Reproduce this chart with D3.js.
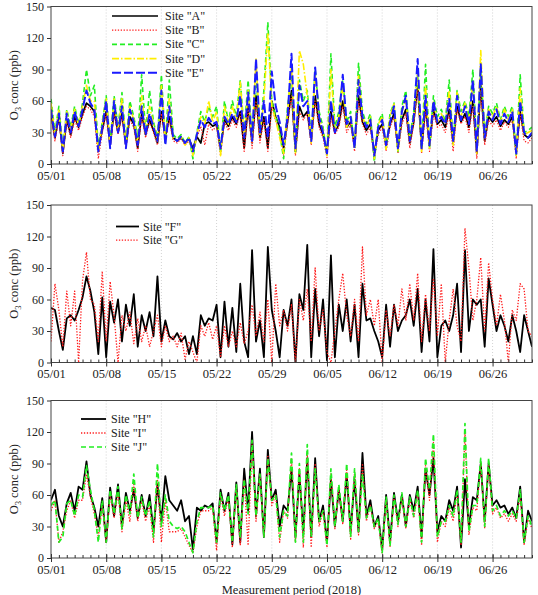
<!DOCTYPE html>
<html><head><meta charset="utf-8">
<script src="https://cdn.jsdelivr.net/npm/d3@7"></script>
<style>
body{margin:0;background:#fff}
svg{display:block}
svg text{font-family:"Liberation Serif","DejaVu Serif",serif !important;fill:#222}
</style>
</head><body><svg id="c" width="538" height="595" font-family="Liberation Serif"></svg>
<script>
// ---------- data (half-daily values starting 2018-05-01 00:00) ----------
const tickLabels = ["05/01","05/08","05/15","05/22","05/29","06/05","06/12","06/19","06/26"];
const yTicks = [0,30,60,90,120,150];

const siteA = [48,25,45,10,42,28,45,35,48,58, 55,50,15,32,50,18,50,30,48,18, 45,38,15,48,28,42,32,20,50,25, 45,25,22,25,20,24,15,26,20,38, 40,36,38,14,42,36,45,38,50,15, 55,20,65,25,45,15,60,45,35,15, 40,70,12,55,45,50,22,65,38,28, 12,50,30,38,60,35,40,18,65,40, 32,38,10,32,38,18,38,48,15,42, 52,20,40,75,15,55,18,52,38,42, 35,52,20,55,40,48,35,60,10,75, 22,45,40,45,36,42,38,45,12,50, 28,25,28];
const siteB = [45,22,42,8,40,25,42,32,45,55, 52,45,5,30,48,15,48,28,45,15, 42,35,12,45,25,40,30,18,48,22, 42,22,20,24,18,22,12,25,36,18, 38,32,36,8,40,32,42,35,48,12, 52,15,60,20,42,12,55,40,32,8, 38,65,8,50,42,48,18,60,35,25, 6,45,28,35,55,30,38,12,60,38, 28,35,5,28,35,12,35,45,10,38, 48,15,38,70,10,50,12,48,35,38, 30,48,12,52,38,45,30,55,5,70, 18,42,36,42,32,40,35,42,5,48, 22,20,25];
const siteC = [62,30,55,15,52,35,55,38,58,90, 65,75,15,40,65,20,65,35,68,20, 60,45,25,85,30,70,40,25,85,20, 80,28,24,28,20,26,5,30,50,40, 55,45,55,12,60,40,60,45,80,30, 80,25,85,30,70,135,60,45,30,5, 55,85,12,80,60,70,25,90,50,35, 8,105,35,50,80,40,50,15,96,50, 38,48,2,40,48,15,48,58,12,55, 70,25,50,85,15,95,15,65,45,52, 40,80,20,70,50,60,45,90,15,88, 28,55,48,58,42,55,45,55,8,85, 30,32,35];
const siteD = [58,28,52,12,50,32,52,36,55,75, 60,60,12,38,62,18,62,32,62,18, 55,42,20,65,30,55,38,22,75,22, 62,25,22,26,18,25,8,28,45,38, 60,40,50,8,55,38,55,42,78,25, 70,20,100,28,60,125,55,42,25,10, 50,95,10,108,95,65,20,85,45,32, 8,90,32,45,75,35,45,15,85,45, 35,45,5,38,45,14,45,58,12,50, 62,22,45,88,12,75,15,60,40,48, 38,70,18,68,45,58,40,78,10,108, 25,52,45,55,40,52,42,52,8,72, 28,30,32];
const siteE = [52,26,48,12,48,30,50,36,52,70, 58,52,12,35,60,15,60,30,55,15, 52,40,18,55,28,48,35,22,70,18, 55,25,22,26,20,25,12,28,42,35, 44,38,40,15,45,38,48,40,65,25, 68,22,100,30,60,25,88,55,40,18, 45,105,15,75,55,60,22,92,45,30, 10,60,30,42,85,38,45,15,80,45, 35,42,8,35,42,18,40,55,15,50, 65,22,45,100,15,65,18,60,40,45, 38,62,22,65,42,55,38,80,12,95, 25,50,42,52,38,48,40,50,10,60, 30,25,30];

const siteF = [52,50,30,12,42,45,40,50,62,82, 68,48,8,62,5,58,38,60,20,55, 35,65,15,45,30,48,25,82,20,40, 25,22,28,20,25,8,25,8,45,35, 42,40,55,5,58,15,52,10,75,20, 5,107,20,40,5,110,50,30,5,50, 35,60,0,65,50,112,5,70,25,60, 2,102,5,55,30,60,20,55,5,75, 40,42,30,20,5,55,15,55,30,40, 45,60,35,70,10,60,20,108,5,35, 40,30,45,75,10,107,30,60,55,60, 15,80,55,30,45,35,20,45,30,10, 45,30,15];
const siteG = [20,75,50,15,68,35,68,0,78,105, 60,55,20,87,20,77,45,0,45,30, 48,18,42,20,35,15,30,45,15,35, 20,25,15,28,3,20,10,0,35,25, 38,22,35,5,35,15,30,15,38,18, 30,55,25,48,20,60,0,75,35,50, 30,55,0,60,40,70,20,90,30,50, 10,0,30,60,85,45,25,60,20,110, 45,60,35,60,0,50,25,55,35,70, 40,75,40,85,20,65,30,80,25,75, 0,40,70,35,20,128,90,40,60,100, 30,95,60,35,65,40,0,50,40,75, 70,30,25];

const siteH = [55,65,40,30,52,62,45,68,65,92, 60,48,30,57,15,67,40,70,30,62, 45,65,38,60,40,60,25,70,35,78, 55,50,45,55,35,40,8,48,45,50, 48,52,15,65,45,62,13,72,15,85, 45,120,40,85,20,103,55,65,30,50, 45,85,20,80,25,95,20,95,35,50, 15,75,30,65,35,80,25,75,25,100, 40,55,30,40,8,60,15,62,35,60, 30,60,45,68,20,85,60,95,25,40, 35,55,45,68,10,75,30,58,55,90, 35,90,50,55,48,50,42,48,38,68, 15,45,35];
const siteI = [45,55,15,25,45,55,38,55,55,80, 58,42,20,50,15,60,38,62,25,55, 35,70,35,55,35,50,15,75,15,55, 25,25,25,28,20,12,5,30,45,45, 45,48,7,60,40,58,10,68,12,75, 12,110,35,80,20,98,50,60,15,45, 38,95,15,85,10,100,10,90,30,45, 10,80,28,65,32,85,18,82,22,90, 35,50,28,35,5,55,10,58,30,58, 28,55,38,62,12,88,55,110,15,35, 30,48,35,62,12,120,22,48,45,90, 28,88,42,48,38,42,35,42,35,60, 12,38,28];
const siteJ = [50,55,15,20,52,55,40,60,58,88, 65,45,15,55,15,65,42,68,28,60, 42,80,38,58,40,55,20,90,30,60, 35,30,28,30,25,15,5,35,48,48, 48,50,15,62,45,60,15,70,20,75, 42,112,40,80,20,95,55,60,20,45, 40,100,15,90,15,108,20,85,35,45, 12,85,30,70,35,90,20,85,25,80, 38,50,30,38,5,58,12,60,32,62, 30,58,40,65,15,95,65,118,20,35, 35,50,40,65,15,128,25,50,50,95, 30,95,45,50,40,45,40,45,38,65, 15,40,30];

// ---------- layout ----------
const FONT = '"Liberation Serif","DejaVu Serif",serif';
const W = 538, H = 595;
const left = 51, right = 532, ph = 157.5;
const DAY = 864e5;
const t0 = Date.UTC(2018,4,1), t1 = Date.UTC(2018,6,1);

const styles = {
  A:{color:"#000000", dash:null, width:1.7},
  B:{color:"#ff1a1a", dash:"1.3,1.6", width:1.2},
  C:{color:"#22ee22", dash:"5,3", width:1.6},
  D:{color:"#ffee00", dash:"7,2,1.5,2", width:1.6},
  E:{color:"#1a1aff", dash:"9,3", width:2.0},
  F:{color:"#000000", dash:null, width:1.8},
  G:{color:"#ff1a1a", dash:"1.3,1.6", width:1.3},
  H:{color:"#000000", dash:null, width:1.8},
  I:{color:"#ff1a1a", dash:"1.3,1.6", width:1.3},
  J:{color:"#22ee22", dash:"5,3", width:1.7}
};

const panels = [
  {top:6.5, series:[["A",siteA],["B",siteB],["C",siteC],["D",siteD],["E",siteE]], leg:{x1:112,x2:158,tx:165,y0:16,dy:14.2}},
  {top:205, series:[["F",siteF],["G",siteG]], leg:{x1:116,x2:139,tx:143,y0:226.5,dy:13.6}},
  {top:400.5, series:[["H",siteH],["I",siteI],["J",siteJ]], leg:{x1:81,x2:106,tx:111,y0:419,dy:14}}
];

const svg = d3.select("#c");
svg.append("rect").attr("width",W).attr("height",H).attr("fill","#fff");

const x = d3.scaleUtc().domain([new Date(t0), new Date(t1)]).range([left, right]);
const majorDates = tickLabels.map((_,k)=>new Date(t0 + k*7*DAY));
const minorDates = d3.utcDay.range(new Date(t0), new Date(t1+1));

panels.forEach((p, pi) => {
  const bottom = p.top + ph;
  const y = d3.scaleLinear().domain([0,150]).range([bottom, p.top]);
  const g = svg.append("g");

  g.selectAll("line.grid").data(majorDates.slice(1)).join("line")
    .attr("x1", d=>x(d)).attr("x2", d=>x(d)).attr("y1", p.top).attr("y2", bottom)
    .attr("stroke","#c8c8c8").attr("stroke-width",0.8).attr("stroke-dasharray","1,2");

  const cid = "clip"+pi;
  svg.append("clipPath").attr("id",cid).append("rect")
    .attr("x",left).attr("y",p.top).attr("width",right-left).attr("height",ph);

  const line = d3.line()
    .x((d,i)=>x(new Date(t0 + i*DAY/2)))
    .y(d=>y(d));

  const lg = g.append("g").attr("clip-path",`url(#${cid})`);
  p.series.forEach(([k, vals]) => {
    const s = styles[k];
    lg.append("path").datum(vals).attr("d", line)
      .attr("fill","none").attr("stroke", s.color).attr("stroke-width", s.width)
      .attr("stroke-linejoin","round")
      .attr("stroke-dasharray", s.dash);
  });

  g.append("rect").attr("x",left).attr("y",p.top).attr("width",right-left).attr("height",ph)
    .attr("fill","none").attr("stroke","#444").attr("stroke-width",1);

  const minorAx = g.append("g").attr("transform",`translate(0,${bottom})`)
    .call(d3.axisBottom(x).tickValues(minorDates).tickSize(-3).tickFormat(""));
  minorAx.select(".domain").remove();
  const majorIn = g.append("g").attr("transform",`translate(0,${bottom})`)
    .call(d3.axisBottom(x).tickValues(majorDates).tickSize(-4).tickFormat(""));
  majorIn.select(".domain").remove();
  const majorAx = g.append("g").attr("transform",`translate(0,${bottom})`)
    .call(d3.axisBottom(x).tickValues(majorDates).tickSize(4).tickPadding(3).tickFormat((d,i)=>tickLabels[i]));
  majorAx.select(".domain").remove();
  majorAx.attr("font-family", FONT).attr("font-size", 12.5);
  majorAx.selectAll("text").attr("fill","#222");
  g.selectAll(".tick line").attr("stroke","#333");

  const yAx = g.append("g").attr("transform",`translate(${left},0)`)
    .call(d3.axisLeft(y).tickValues(yTicks).tickSize(4).tickPadding(3));
  yAx.select(".domain").remove();
  yAx.attr("font-family", FONT).attr("font-size", 12);
  yAx.selectAll("text").attr("fill","#222");
  yAx.selectAll("line").attr("stroke","#333");

  const yl = g.append("text")
    .attr("transform",`translate(18,${p.top+ph/2}) rotate(-90)`)
    .attr("text-anchor","middle").attr("font-size",12.5).attr("font-family",FONT);
  yl.append("tspan").text("O");
  yl.append("tspan").text("3").attr("font-size",8.5).attr("dy",3);
  yl.append("tspan").text(" conc (ppb)").attr("dy",-3);

  p.series.forEach(([k], j) => {
    const s = styles[k];
    const yy = p.leg.y0 + j*p.leg.dy;
    g.append("line").attr("x1",p.leg.x1).attr("x2",p.leg.x2).attr("y1",yy).attr("y2",yy)
      .attr("stroke",s.color).attr("stroke-width",s.width).attr("stroke-dasharray",s.dash);
    g.append("text").attr("x",p.leg.tx).attr("y",yy+4).attr("font-size",12).attr("font-family",FONT)
      .text(`Site "${k}"`);
  });
});

svg.append("text").attr("x",(left+right)/2).attr("y",593.5).attr("text-anchor","middle")
  .attr("font-size",12.5).attr("font-family",FONT).text("Measurement period (2018)");
</script>
</body></html>
